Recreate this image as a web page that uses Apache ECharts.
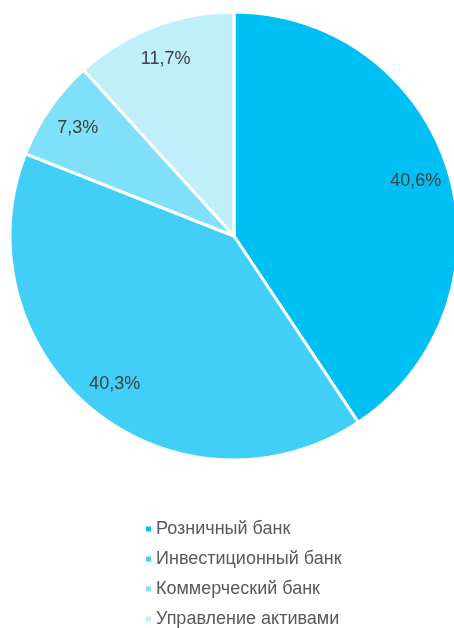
<!DOCTYPE html>
<html>
<head>
<meta charset="utf-8">
<script src="https://cdn.jsdelivr.net/npm/echarts@6/dist/echarts.min.js"></script>
<style>
  html, body { margin: 0; padding: 0; background: #fff; }
  #main { width: 454px; height: 628px; }
</style>
</head>
<body>
<div id="main"></div>
<script>
// доли бизнес-сегментов, %
var segments = ['Розничный банк', 'Инвестиционный банк', 'Коммерческий банк', 'Управление активами'];
var shares = [40.6, 40.3, 7.3, 11.7];
var colors = ['#00BFF3', '#42CFF7', '#80DFF9', '#BFEFFB'];

var chart = echarts.init(document.getElementById('main'));

var pieData = segments.map(function (name, i) {
  return { name: name, value: shares[i], itemStyle: { color: colors[i] } };
});
// invisible ring, only to put the labels further out than 'inside' does
var labelData = segments.map(function (name, i) {
  return { name: name, value: shares[i], itemStyle: { color: 'rgba(0,0,0,0)' } };
});

chart.setOption({
  animation: false,
  textStyle: { fontFamily: 'Liberation Sans, Arial, sans-serif' },
  legend: {
    orient: 'vertical',
    left: 146,
    top: 520,
    height: 120,
    padding: 0,
    icon: 'rect',
    itemWidth: 5,
    itemHeight: 5,
    itemGap: 12,
    itemTextGap: 7,
    itemStyle: { borderWidth: 0 },
    data: segments,
    textStyle: { fontSize: 18, color: '#595959', fontFamily: 'Liberation Sans, Arial, sans-serif' }
  },
  series: [
    {
      type: 'pie',
      center: [234, 236],
      radius: [0, 224],
      startAngle: 90,
      clockwise: true,
      silent: true,
      label: { show: false },
      labelLine: { show: false },
      itemStyle: { borderColor: '#fff', borderWidth: 3 },
      data: pieData
    },
    {
      type: 'pie',
      center: [234, 236],
      radius: [162, 212],
      startAngle: 90,
      clockwise: true,
      silent: true,
      z: 3,
      label: {
        show: true,
        position: 'inside',
        fontSize: 18,
        color: '#404040',
        fontFamily: 'Liberation Sans, Arial, sans-serif',
        formatter: function (p) {
          return p.value.toFixed(1).replace('.', ',') + '%';
        }
      },
      labelLine: { show: false },
      data: labelData
    }
  ]
});
</script>
</body>
</html>
